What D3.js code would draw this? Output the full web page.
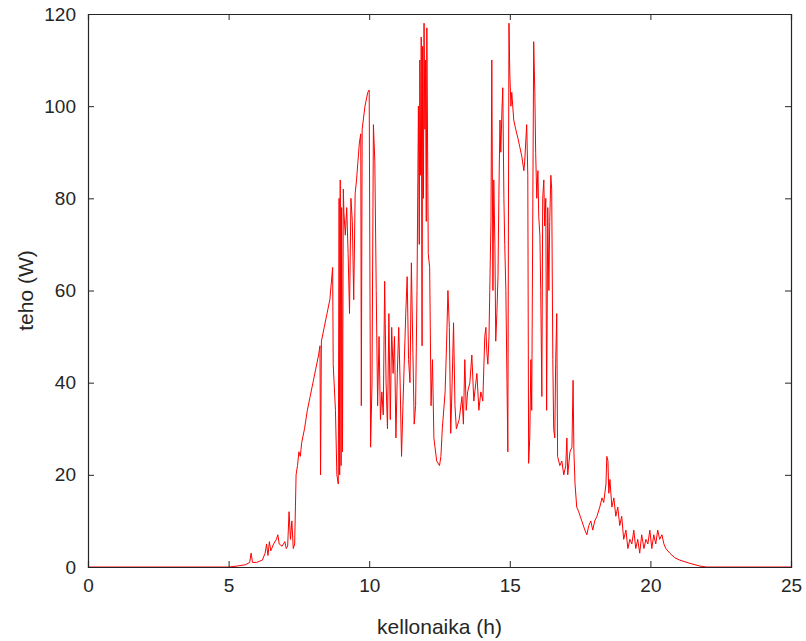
<!DOCTYPE html>
<html>
<head>
<meta charset="utf-8">
<script src="https://cdn.jsdelivr.net/npm/d3@7"></script>
<style>
  html, body { margin: 0; padding: 0; background: #fff; }
  svg text { font-family: "Liberation Sans", Arial, Helvetica, sans-serif; fill: #262626; }
</style>
</head>
<body>
<div id="chart"></div>
<script>
const hours = [
  0, 5.0, 5.3, 5.6, 5.75, 5.8, 5.85, 6.0, 6.2, 6.3, 6.35, 6.4, 6.45, 6.5, 6.6, 6.7, 6.75, 6.8, 6.9, 7.0,
  7.05, 7.1, 7.15, 7.2, 7.25, 7.3, 7.35, 7.4, 7.45, 7.5, 7.55, 7.6, 7.7, 7.8, 7.9, 8.0, 8.1, 8.2, 8.25, 8.27,
  8.3, 8.4, 8.5, 8.6, 8.7, 8.72, 8.8, 8.85, 8.9, 8.93, 8.95, 8.97, 9.0, 9.02, 9.05, 9.08, 9.1, 9.15, 9.2, 9.25, 9.3, 9.35, 9.4,
  9.45, 9.5, 9.55, 9.6, 9.65, 9.7, 9.72, 9.75, 9.85, 9.95, 10.0, 10.05, 10.1, 10.15, 10.2, 10.25, 10.3, 10.35, 10.4, 10.45,
  10.5, 10.55, 10.6, 10.65, 10.7, 10.75, 10.8, 10.85, 10.9, 10.95, 11.0, 11.05, 11.1, 11.15, 11.2, 11.3, 11.35, 11.4, 11.45, 11.5,
  11.55, 11.6, 11.65, 11.7, 11.75, 11.78, 11.8, 11.83, 11.85, 11.88, 11.9, 11.93, 11.95, 11.98, 12.0, 12.03, 12.05, 12.1,
  12.15, 12.2, 12.25, 12.3, 12.4, 12.5, 12.55,
  12.6, 12.7, 12.75, 12.8, 12.85, 12.9, 12.95, 13.0, 13.05, 13.1, 13.2, 13.3, 13.35, 13.4, 13.45, 13.5, 13.58, 13.65, 13.72, 13.83,
  13.9, 13.97, 14.04, 14.11, 14.15, 14.18, 14.22, 14.26, 14.33, 14.36, 14.4, 14.43, 14.47, 14.5, 14.54, 14.58, 14.61, 14.65, 14.68, 14.72,
  14.75, 14.79, 14.82, 14.86, 14.9, 14.93, 14.97, 15.0, 15.04, 15.07, 15.14, 15.21, 15.29, 15.36, 15.43, 15.5, 15.53, 15.6, 15.64, 15.67,
  15.71, 15.75, 15.78, 15.82, 15.85, 15.89, 15.92, 15.96, 16.0, 16.03, 16.07, 16.1, 16.14, 16.17, 16.21, 16.24, 16.28, 16.31, 16.35, 16.39,
  16.42, 16.46, 16.49, 16.53, 16.56, 16.6, 16.63, 16.67, 16.7, 16.78, 16.85, 16.92, 16.99, 17.03, 17.06, 17.14, 17.21, 17.25, 17.28, 17.32,
  17.38, 17.45, 17.56, 17.67, 17.74, 17.81, 17.88, 17.95, 18.02, 18.1, 18.2, 18.28, 18.34, 18.42, 18.45, 18.49, 18.52, 18.56, 18.63, 18.7,
  18.77, 18.84, 18.91, 18.98, 19.05, 19.13, 19.2, 19.27, 19.34, 19.41, 19.48, 19.55, 19.62, 19.69, 19.77, 19.84, 19.91, 19.98, 20.05, 20.12,
  20.19, 20.26, 20.33, 20.41, 20.48, 20.55, 20.69, 20.87, 21.04, 21.4, 21.76, 22.0, 25
];
const power = [
  0, 0, 0.2, 0.5, 1, 3, 1, 1, 1.5, 3, 5, 2.5, 5.5, 3.5, 5, 6, 7, 5, 4.5, 5.5,
  4, 4.5, 12, 6, 10, 4, 5, 20, 22, 25, 24, 27, 30, 34, 37, 40, 43, 46, 48, 20,
  49, 52, 55, 58, 65, 44, 34, 20, 18, 80, 20, 84, 22, 78, 25, 82, 77, 72, 78, 68, 55, 80, 75,
  58, 81, 84, 88, 92, 94, 35, 95, 100, 103, 103.5, 26, 40, 96, 88, 60, 35, 50, 32, 38,
  33, 62, 40, 30, 55, 32, 52, 42, 50, 28, 42, 52, 40, 24, 35, 55, 63, 45, 40, 66,
  48, 31, 35, 60, 100, 70, 110, 85, 115, 48, 113, 80, 118, 95, 110, 75, 117, 68,
  65, 35, 45, 28, 23, 22, 24,
  30, 38, 48, 60, 52, 29, 40, 53, 35, 30, 32, 37, 31, 45, 34, 38, 40, 46, 36, 42,
  34, 38, 36, 50, 52, 47, 44, 50, 75, 110, 60, 84, 70, 49, 55, 63, 80, 97, 90, 99,
  104, 80, 70, 60, 40, 25, 118, 107, 100, 103, 97, 95, 93, 91, 89, 86, 88, 96, 85, 22.5,
  28, 45, 34, 80, 114, 103, 90, 80, 86, 76, 72, 60, 37, 80, 84, 74, 80, 34, 78, 60,
  75, 85, 82, 45, 30, 28, 44, 55, 24, 22, 23, 20, 22, 28, 20, 25, 26, 40.5, 25, 18,
  13, 12, 10, 8, 7, 9, 10, 8, 10, 11, 13, 15, 14, 18, 24, 23, 16, 19, 13, 15,
  11, 13, 9, 11, 6, 8, 4, 6, 5, 8, 4, 6, 3, 7, 4, 6, 5, 8, 4, 7,
  5, 8, 6, 7, 5, 4, 3, 2, 1.5, 0.8, 0.2, 0, 0
];
const xTicks = [0, 5, 10, 15, 20, 25];
const yTicks = [0, 20, 40, 60, 80, 100, 120];

const width = 806, height = 641;
const margin = { top: 14, right: 15, bottom: 74, left: 88 };

const svg = d3.select('#chart')
  .append('svg')
  .attr('width', width)
  .attr('height', height);

const x = d3.scaleLinear()
  .domain([0, 25])
  .range([margin.left, width - margin.right]);

const y = d3.scaleLinear()
  .domain([0, 120])
  .range([height - margin.bottom, margin.top]);

const data = hours.map((h, i) => ({ h, p: power[i] }));

const line = d3.line()
  .x(d => x(d.h))
  .y(d => y(d.p));

svg.append('path')
  .datum(data)
  .attr('fill', 'none')
  .attr('stroke', '#ff0000')
  .attr('stroke-width', 1)
  .attr('stroke-linejoin', 'round')
  .attr('d', line);

// axes, MATLAB style: box with inward ticks on all four sides
const tickLen = 6;
const axisColor = '#262626';

const axisBottomG = svg.append('g')
  .attr('transform', `translate(0,${y(0)})`)
  .call(d3.axisBottom(x).tickValues(xTicks).tickSize(-tickLen).tickPadding(12));
const axisTopG = svg.append('g')
  .attr('transform', `translate(0,${y(120)})`)
  .call(d3.axisTop(x).tickValues(xTicks).tickSize(-tickLen).tickFormat(''));
const axisLeftG = svg.append('g')
  .attr('transform', `translate(${x(0)},0)`)
  .call(d3.axisLeft(y).tickValues(yTicks).tickSize(-tickLen).tickPadding(12));
const axisRightG = svg.append('g')
  .attr('transform', `translate(${x(25)},0)`)
  .call(d3.axisRight(y).tickValues(yTicks).tickSize(-tickLen).tickFormat(''));

[axisBottomG, axisTopG, axisLeftG, axisRightG].forEach(g => {
  g.select('.domain').attr('stroke', axisColor).attr('stroke-width', 1.2);
  g.selectAll('.tick line').attr('stroke', axisColor);
  g.selectAll('.tick text')
    .attr('fill', axisColor)
    .style('font-size', '19px')
    .style('font-family', '"Liberation Sans", Arial, sans-serif');
});

svg.append('text')
  .attr('x', (x(0) + x(25)) / 2)
  .attr('y', 634)
  .attr('text-anchor', 'middle')
  .style('font-size', '21px')
  .text('kellonaika (h)');

svg.append('text')
  .attr('transform', `translate(33,${(y(0) + y(120)) / 2}) rotate(-90)`)
  .attr('text-anchor', 'middle')
  .style('font-size', '21px')
  .text('teho (W)');
</script>
</body>
</html>
